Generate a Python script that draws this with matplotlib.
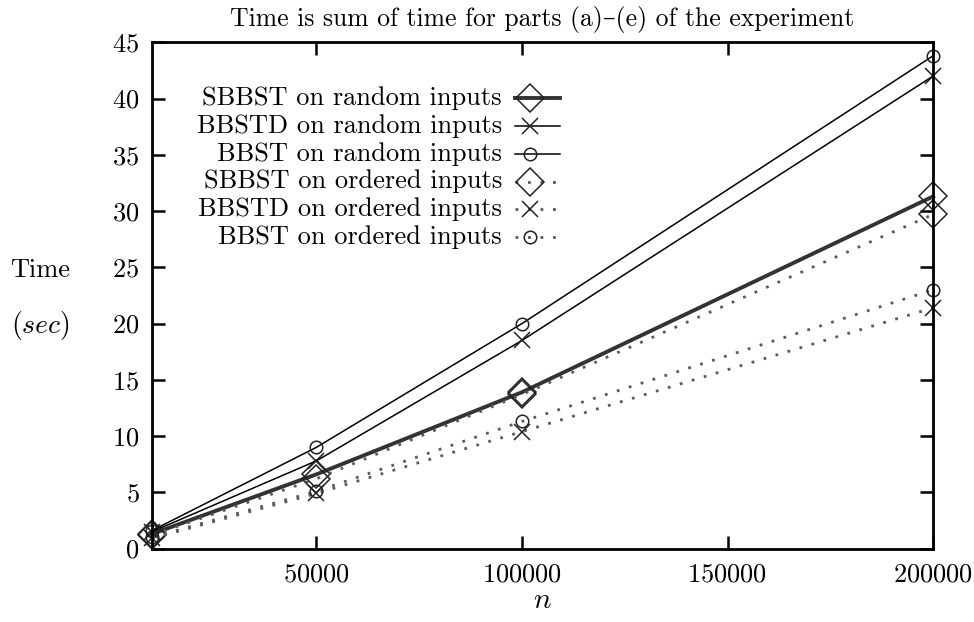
import matplotlib
matplotlib.use('Agg')
import matplotlib.pyplot as plt
from matplotlib.lines import Line2D

plt.rcParams['font.family'] = ['cmr10', 'DejaVu Serif']
plt.rcParams['mathtext.fontset'] = 'cm'
plt.rcParams['axes.formatter.use_mathtext'] = True
plt.rcParams['font.size'] = 19

# problem sizes
n_values = [10000, 50000, 100000, 200000]

# seconds, sum of parts (a)-(e)
sbbst_random = [1.3, 6.6, 13.9, 31.3]
bbstd_random = [1.5, 7.8, 18.5, 42.0]
bbst_random = [1.6, 9.0, 20.0, 43.8]
sbbst_ordered = [1.2, 6.2, 13.7, 29.7]
bbstd_ordered = [0.9, 4.9, 10.4, 21.4]
bbst_ordered = [1.0, 5.1, 11.3, 23.0]

labels = ['SBBST on random inputs', 'BBSTD on random inputs', 'BBST on random inputs',
          'SBBST on ordered inputs', 'BBSTD on ordered inputs', 'BBST on ordered inputs']
series = [sbbst_random, bbstd_random, bbst_random, sbbst_ordered, bbstd_ordered, bbst_ordered]

dotted = (0, (1, 3.5))
styles = [
    dict(color='#333333', lw=2.8, ls='-', marker='D', ms=14),
    dict(color='black', lw=1.1, ls='-', marker='x', ms=11),
    dict(color='black', lw=1.1, ls='-', marker='o', ms=9),
    dict(color='#5a5a5a', lw=2.0, ls=dotted, marker='D', ms=14),
    dict(color='#5a5a5a', lw=2.0, ls=dotted, marker='x', ms=11),
    dict(color='#5a5a5a', lw=2.0, ls=dotted, marker='o', ms=9),
]

fig = plt.figure(figsize=(9.74, 6.22), dpi=100)
ax = fig.add_axes([0.156, 0.118, 0.802, 0.814])

for vals, st in zip(series, styles):
    ax.plot(n_values, vals, color=st['color'], lw=st['lw'], ls=st['ls'], clip_on=False)
    ax.plot(n_values, vals, ls='none', marker=st['marker'], ms=st['ms'], mfc='none',
            mec='#222222', mew=1.1, clip_on=False)

ax.set_xlim(10000, 200000)
ax.set_ylim(0, 45)
ax.set_xticks([50000, 100000, 150000, 200000])
ax.set_yticks(range(0, 46, 5))
ax.tick_params(direction='in', length=9.5, width=1.8, top=True, right=True)
ax.tick_params(axis='x', pad=10)
ax.tick_params(axis='y', pad=9)
for s in ax.spines.values():
    s.set_linewidth(2)

ax.set_title('Time is sum of time for parts (a)\u2013(e) of the experiment', fontsize=18.5, pad=12)
ax.set_xlabel('$n$', fontsize=21, labelpad=1)
ax.text(-0.143, 0.55, 'Time', transform=ax.transAxes, ha='center', va='center')
ax.text(-0.143, 0.44, '$(sec)$', transform=ax.transAxes, ha='center', va='center', fontsize=20)

# gnuplot-style key: text right-aligned, sample after it
x_txt, x0, x1 = 0.448, 0.465, 0.522
y_top, dy = 0.889, 0.0547
for i, (lab, st) in enumerate(zip(labels, styles)):
    y = y_top - i * dy
    ax.text(x_txt, y, lab, transform=ax.transAxes, ha='right', va='center')
    ax.add_line(Line2D([x0, x1], [y, y], transform=ax.transAxes, color=st['color'],
                       lw=st['lw'], ls=st['ls']))
    xm = x0 + 0.33 * (x1 - x0)
    ax.add_line(Line2D([xm], [y], transform=ax.transAxes, ls='none', marker=st['marker'],
                       ms=st['ms'], mfc='none', mec='#222222', mew=1.1))

fig.savefig('out.png', dpi=100)
